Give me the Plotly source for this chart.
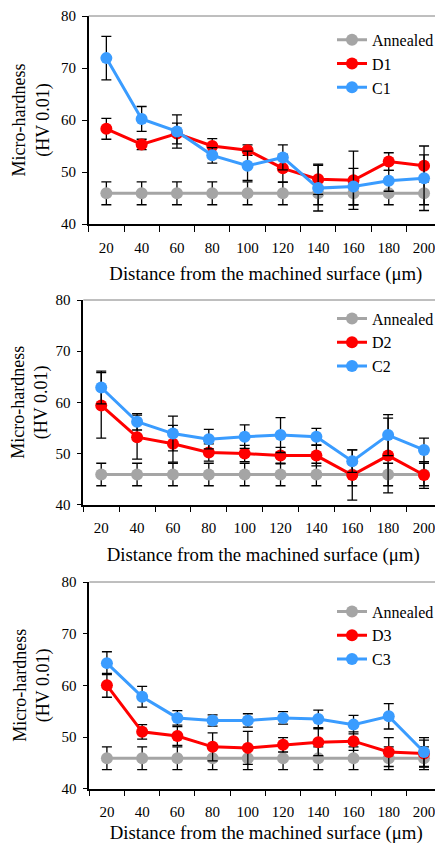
import plotly.graph_objects as go

depth = ["20", "40", "60", "80", "100", "120", "140", "160", "180", "200"]

annealed = [45.9] * 10
annealed_err = [2.2] * 10

d1 = [58.3, 55.3, 57.4, 55.0, 54.2, 50.7, 48.6, 48.4, 52.0, 51.2]
d1_err = [2.0, 1.0, 2.0, 1.4, 1.0, 2.7, 2.9, 5.6, 1.7, 2.1]
c1 = [71.9, 60.2, 57.8, 53.2, 51.2, 52.8, 46.9, 47.2, 48.3, 48.8]
c1_err = [4.2, 2.4, 3.2, 1.5, 2.8, 2.4, 4.4, 3.5, 2.0, 6.2]

d2 = [59.4, 53.2, 51.9, 50.2, 50.0, 49.6, 49.6, 45.8, 49.6, 45.8]
d2_err = [6.4, 4.3, 3.6, 1.7, 1.6, 1.6, 2.0, 4.9, 7.3, 2.6]
c2 = [62.9, 56.2, 53.9, 52.8, 53.3, 53.6, 53.3, 48.5, 53.6, 50.7]
c2_err = [3.2, 1.6, 3.4, 1.9, 2.3, 3.4, 1.6, 2.2, 4.0, 2.3]

d3 = [60.0, 51.0, 50.2, 48.1, 47.9, 48.5, 49.0, 49.2, 47.1, 46.8]
d3_err = [2.3, 1.4, 1.8, 2.7, 3.2, 1.4, 2.6, 1.8, 2.8, 2.6]
c3 = [64.3, 57.8, 53.7, 53.2, 53.2, 53.7, 53.5, 52.4, 54.0, 47.1]
c3_err = [2.2, 2.0, 1.4, 1.1, 1.3, 1.2, 1.7, 1.8, 2.45, 2.8]

GRAY = "#A5A5A5"
RED = "#FF0000"
BLUE = "#3A9CFF"
FONT = "Liberation Serif"

OFF = 8              # page body margin
W, H = 443 - OFF, 844 - OFF

# left edge, category width, top, bottom (page pixels)
panels = [
    dict(names=("Annealed", "D1", "C1"), data=(annealed, d1, c1), errs=(annealed_err, d1_err, c1_err),
         left=88.7, cat=35.3, top=16, bottom=224, leg_y=22.8, tstand=12),
    dict(names=("Annealed", "D2", "C2"), data=(annealed, d2, c2), errs=(annealed_err, d2_err, c2_err),
         left=83.3, cat=35.86, top=300, bottom=504.7, leg_y=301.5, tstand=12),
    dict(names=("Annealed", "D3", "C3"), data=(annealed, d3, c3), errs=(annealed_err, d3_err, c3_err),
         left=89.3, cat=35.23, top=582, bottom=788.7, leg_y=594.5, tstand=11),
]

fig = go.Figure()
colors = (GRAY, RED, BLUE)

for i, p in enumerate(panels):
    k = "" if i == 0 else str(i + 1)
    leg = "legend" + k
    for name, vals, err, col in zip(p["names"], p["data"], p["errs"], colors):
        fig.add_trace(go.Scatter(
            x=depth, y=vals, name=name, mode="lines+markers",
            xaxis="x" + k, yaxis="y" + k, legend=leg,
            line=dict(color=col, width=3),
            marker=dict(color=col, size=12),
            error_y=dict(type="data", array=err, visible=True, color="black",
                         thickness=1.3, width=5),
        ))
    xdom = [(p["left"] - OFF) / W, 1.0]
    xmax = -0.5 + (443 - p["left"]) / p["cat"]
    ydom = [1 - (p["bottom"] - OFF) / H, 1 - (p["top"] - OFF) / H]
    fig.layout["xaxis" + k] = dict(
        domain=xdom, anchor="y" + k, type="category", range=[-0.5, xmax],
        automargin=False,
        showline=True, linecolor="black", linewidth=1.5,
        ticks="outside", tickson="boundaries", ticklen=6, tickcolor="black", tickwidth=1.3,
        ticklabelstandoff=9,
        tickfont=dict(family=FONT, size=15, color="black"),
        showgrid=False, zeroline=False,
        title=dict(text="Distance from the machined surface (μm)",
                   font=dict(family=FONT, size=18.8, color="black"), standoff=p["tstand"]),
    )
    fig.layout["yaxis" + k] = dict(
        domain=ydom, anchor="x" + k, range=[40, 80], tickvals=[40, 50, 60, 70, 80],
        automargin=False,
        showline=True, linecolor="black", linewidth=1.5,
        ticks="outside", ticklen=5, tickcolor="black", tickwidth=1.3,
        ticklabelstandoff=3,
        tickfont=dict(family=FONT, size=15, color="black"),
        showgrid=False, zeroline=False,
        title=dict(text="Micro-hardness<br>(HV 0.01)",
                   font=dict(family=FONT, size=18, color="black"), standoff=7),
    )
    fig.layout[leg] = dict(
        x=(332 - OFF) / W, y=1 - (p["leg_y"] - OFF) / H, xanchor="left", yanchor="top",
        bgcolor="rgba(0,0,0,0)", font=dict(family=FONT, size=16, color="black"),
        tracegroupgap=0, itemwidth=30,
    )
    fig.add_shape(type="line", xref="x" + k + " domain", yref="y" + k + " domain",
                  x0=0, x1=1, y0=1, y1=1, line=dict(color="#7F7F7F", width=1))

fig.update_layout(
    template="none",
    width=W, height=H, margin=dict(l=0, r=0, t=0, b=0, autoexpand=False),
    paper_bgcolor="white", plot_bgcolor="white", showlegend=True,
    font=dict(family=FONT, color="black"),
)

fig.write_html(
    "out.html",
    post_script="document.documentElement.style.overflow='hidden';"
                "document.body.style.overflow='hidden';",
)
